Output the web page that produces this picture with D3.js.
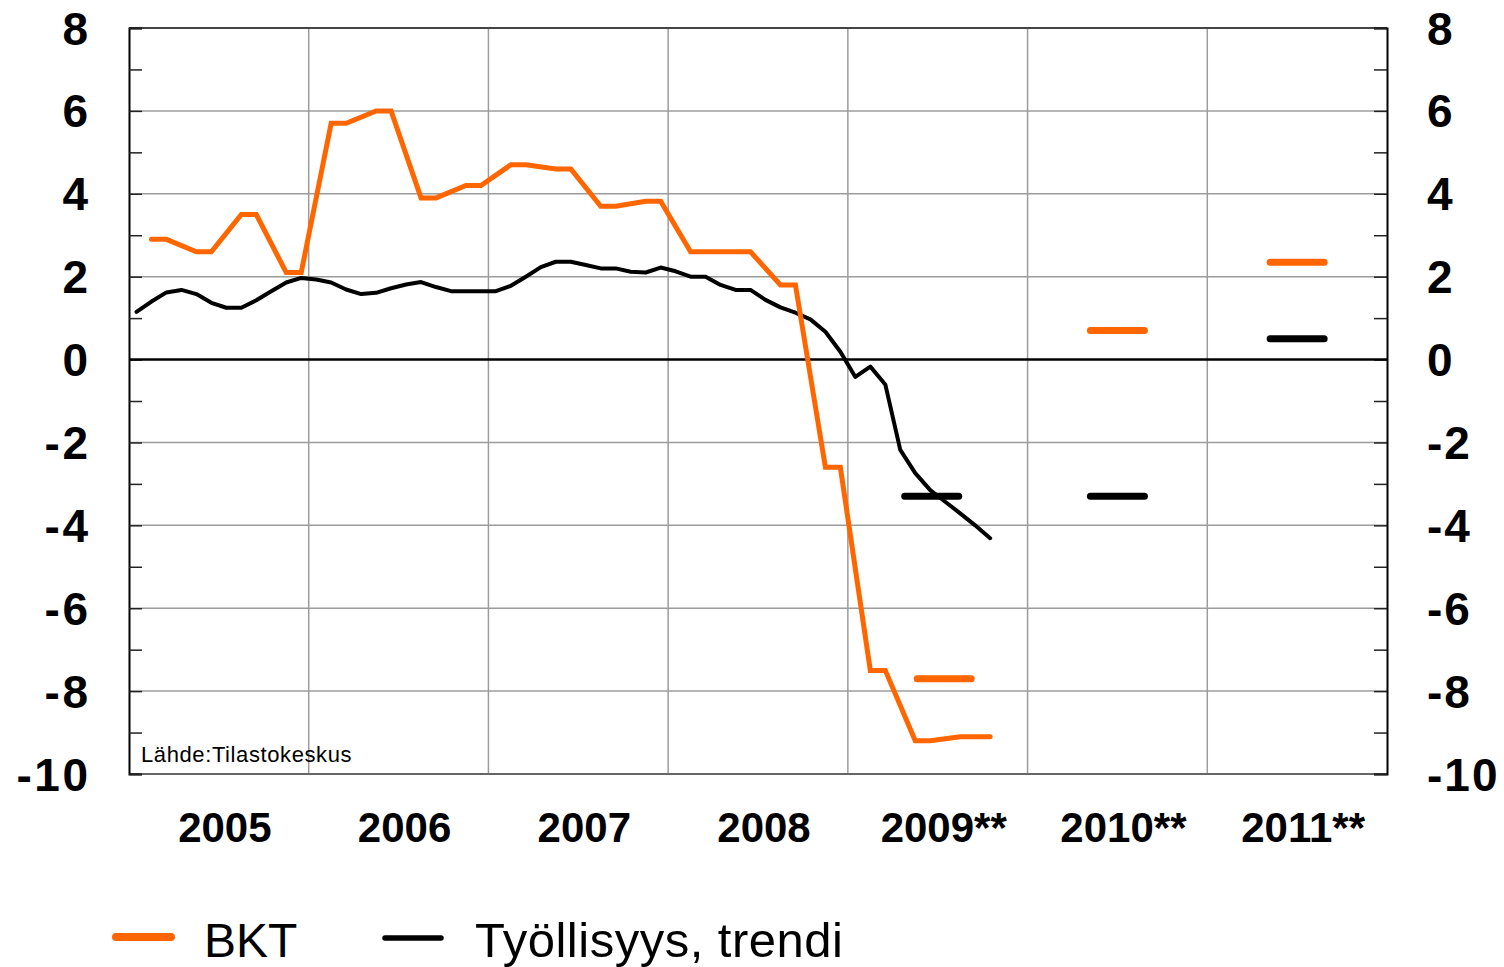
<!DOCTYPE html>
<html>
<head>
<meta charset="utf-8">
<script src="https://cdn.jsdelivr.net/npm/d3@7"></script>
<style>
  body { margin: 0; background: #fff; }
  text { font-family: "Liberation Sans", Arial, sans-serif; }
</style>
</head>
<body>
<div id="chart"></div>
<script>
// year columns on the x axis
var years = ["2005", "2006", "2007", "2008", "2009**", "2010**", "2011**"];

// BKT, monthly slots from Jan 2005 (null = no value, line just passes)
var bktValues = [
  null, 2.9, 2.9,  null, 2.6, 2.6,  null, 3.5, 3.5,  null, 2.1, 2.1,
  null, 5.7, 5.7,  null, 6.0, 6.0,  null, 3.9, 3.9,  null, 4.2, 4.2,
  null, 4.7, 4.7,  null, 4.6, 4.6,  null, 3.7, 3.7,  null, 3.82, 3.82,
  null, 2.6, 2.6,  null, 2.6, 2.6,  null, 1.8, 1.8,  null, -2.6, -2.6,
  null, -7.5, -7.5, null, -9.2, -9.2, -9.15, -9.1, -9.1, -9.1
];

// Työllisyys, trendi, monthly from Jan 2005
var empValues = [
  1.15, 1.4, 1.62, 1.68, 1.58, 1.37, 1.25, 1.25, 1.43, 1.65, 1.86, 1.97,
  1.93, 1.86, 1.69, 1.58, 1.61, 1.72, 1.81, 1.87, 1.75, 1.65, 1.65, 1.65,
  1.65, 1.78, 2.0, 2.23, 2.36, 2.36, 2.28, 2.2, 2.2, 2.12, 2.1, 2.22,
  2.13, 2.0, 2.0, 1.8, 1.68, 1.68, 1.44, 1.26, 1.13, 0.97, 0.67, 0.19,
  -0.42, -0.17, -0.6, -2.18, -2.74, -3.15, -3.43, -3.71, -4.0, -4.31
];

// forecasts (year columns 2009**, 2010**, 2011**)
var forecastYears = ["2009**", "2010**", "2011**"];
var bktForecast = [-7.7, 0.7, 2.35];
var empForecast = [-3.3, -3.3, 0.5];

var yTicks = [8, 6, 4, 2, 0, -2, -4, -6, -8, -10];

var width = 1504, height = 967;
var margin = {top: 28, right: 117, bottom: 193, left: 129};
var plotW = width - margin.left - margin.right,
    plotH = height - margin.top - margin.bottom;

var orange = "#ff6600";

var svg = d3.select("#chart")
            .append("svg")
            .attr("width", width)
            .attr("height", height);

var g = svg.append("g")
           .attr("transform", "translate(" + margin.left + "," + margin.top + ")");

// month scale and year scale
var xScale = d3.scaleLinear().domain([0, years.length * 12]).range([0, plotW]);
var yearScale = d3.scaleBand().domain(years).range([0, plotW]);
var yScale = d3.scaleLinear().domain([-10, 8]).range([plotH, 0]);

// horizontal grid
g.append("g")
  .selectAll("line")
  .data(yTicks.filter(function(d){ return d !== 0 && d !== -10 && d !== 8; }))
  .enter().append("line")
  .attr("x1", 0).attr("x2", plotW)
  .attr("y1", function(d){ return yScale(d); })
  .attr("y2", function(d){ return yScale(d); })
  .attr("stroke", "#9c9c9c")
  .attr("stroke-width", 1.5);

// vertical grid between years
g.append("g")
  .selectAll("line")
  .data(years.slice(1))
  .enter().append("line")
  .attr("x1", function(d){ return yearScale(d); })
  .attr("x2", function(d){ return yearScale(d); })
  .attr("y1", 0).attr("y2", plotH)
  .attr("stroke", "#9c9c9c")
  .attr("stroke-width", 1.5);

// frame
g.append("line").attr("x1", 0).attr("x2", plotW).attr("y1", 0).attr("y2", 0)
  .attr("stroke", "#444").attr("stroke-width", 2);
g.append("line").attr("x1", 0).attr("x2", plotW).attr("y1", plotH).attr("y2", plotH)
  .attr("stroke", "#666").attr("stroke-width", 2);

// left and right axes, ticks inside
var leftAxis = d3.axisLeft(yScale).ticks(18).tickSize(-13).tickFormat("");
var rightAxis = d3.axisRight(yScale).ticks(18).tickSize(-13).tickFormat("");

var la = g.append("g").call(leftAxis);
var ra = g.append("g").attr("transform", "translate(" + plotW + ",0)").call(rightAxis);
[la, ra].forEach(function(a){
  a.select(".domain").attr("stroke", "#000").attr("stroke-width", 2);
  a.selectAll(".tick line").attr("stroke", "#222").attr("stroke-width", 1.5);
});

// zero line
g.append("line")
  .attr("x1", 0).attr("x2", plotW)
  .attr("y1", yScale(0)).attr("y2", yScale(0))
  .attr("stroke", "#000").attr("stroke-width", 2.5);

// y labels both sides
g.append("g").selectAll("text")
  .data(yTicks).enter().append("text")
  .attr("x", -38.5)
  .attr("y", function(d){ return yScale(d); })
  .attr("dy", "0.36em")
  .attr("text-anchor", "end")
  .style("font-size", "46px").style("font-weight", "bold")
  .style("letter-spacing", "2.5px")
  .text(function(d){ return d; });

g.append("g").selectAll("text")
  .data(yTicks).enter().append("text")
  .attr("x", plotW + 40)
  .attr("y", function(d){ return yScale(d); })
  .attr("dy", "0.36em")
  .attr("text-anchor", "start")
  .style("font-size", "46px").style("font-weight", "bold")
  .style("letter-spacing", "2px")
  .text(function(d){ return d; });

// year labels
g.append("g").selectAll("text")
  .data(years).enter().append("text")
  .attr("x", function(d){ return yearScale(d) + yearScale.bandwidth() / 2 + 6; })
  .attr("y", plotH + 68)
  .attr("text-anchor", "middle")
  .style("font-size", "42px").style("font-weight", "bold")
  .text(function(d){ return d; });

// source
g.append("text")
  .attr("x", 12).attr("y", plotH - 12)
  .style("font-size", "22px")
  .style("letter-spacing", "0.6px")
  .text("Lähde:Tilastokeskus");

// lines
var line = d3.line()
  .x(function(d){ return xScale(d.i + 0.5); })
  .y(function(d){ return yScale(d.v); });

var bktPoints = bktValues.map(function(v, i){ return {i: i, v: v}; })
                         .filter(function(d){ return d.v !== null; });
var empPoints = empValues.map(function(v, i){ return {i: i, v: v}; });

g.append("path")
  .datum(empPoints)
  .attr("d", line)
  .attr("fill", "none")
  .attr("stroke", "#000")
  .attr("stroke-width", 4)
  .attr("stroke-linejoin", "round")
  .attr("stroke-linecap", "round");

g.append("path")
  .datum(bktPoints)
  .attr("d", line)
  .attr("fill", "none")
  .attr("stroke", orange)
  .attr("stroke-width", 5)
  .attr("stroke-linejoin", "miter")
  .attr("stroke-linecap", "round");

// forecast dashes
var halfLen = 27;
function shift(year, series){
  // the 2009 dashes sit a bit apart
  if (year !== "2009**") return 0;
  return series === "bkt" ? 6.5 : -6;
}

g.append("g").selectAll("line")
  .data(forecastYears.map(function(y, k){ return {y: y, v: empForecast[k]}; }))
  .enter().append("line")
  .attr("x1", function(d){ return yearScale(d.y) + yearScale.bandwidth() / 2 + shift(d.y, "emp") - halfLen; })
  .attr("x2", function(d){ return yearScale(d.y) + yearScale.bandwidth() / 2 + shift(d.y, "emp") + halfLen; })
  .attr("y1", function(d){ return yScale(d.v); })
  .attr("y2", function(d){ return yScale(d.v); })
  .attr("stroke", "#000").attr("stroke-width", 7).attr("stroke-linecap", "round");

g.append("g").selectAll("line")
  .data(forecastYears.map(function(y, k){ return {y: y, v: bktForecast[k]}; }))
  .enter().append("line")
  .attr("x1", function(d){ return yearScale(d.y) + yearScale.bandwidth() / 2 + shift(d.y, "bkt") - halfLen; })
  .attr("x2", function(d){ return yearScale(d.y) + yearScale.bandwidth() / 2 + shift(d.y, "bkt") + halfLen; })
  .attr("y1", function(d){ return yScale(d.v); })
  .attr("y2", function(d){ return yScale(d.v); })
  .attr("stroke", orange).attr("stroke-width", 7).attr("stroke-linecap", "round");

// legend
var legend = svg.append("g");
legend.append("line")
  .attr("x1", 116).attr("x2", 171).attr("y1", 937).attr("y2", 937)
  .attr("stroke", orange).attr("stroke-width", 8).attr("stroke-linecap", "round");
legend.append("text")
  .attr("x", 204).attr("y", 957)
  .style("font-size", "48px")
  .text("BKT");
legend.append("line")
  .attr("x1", 385).attr("x2", 441).attr("y1", 938).attr("y2", 938)
  .attr("stroke", "#000").attr("stroke-width", 5.5).attr("stroke-linecap", "round");
legend.append("text")
  .attr("x", 475).attr("y", 957)
  .style("font-size", "49px")
  .style("letter-spacing", "0.5px")
  .text("Työllisyys, trendi");
</script>
</body>
</html>
